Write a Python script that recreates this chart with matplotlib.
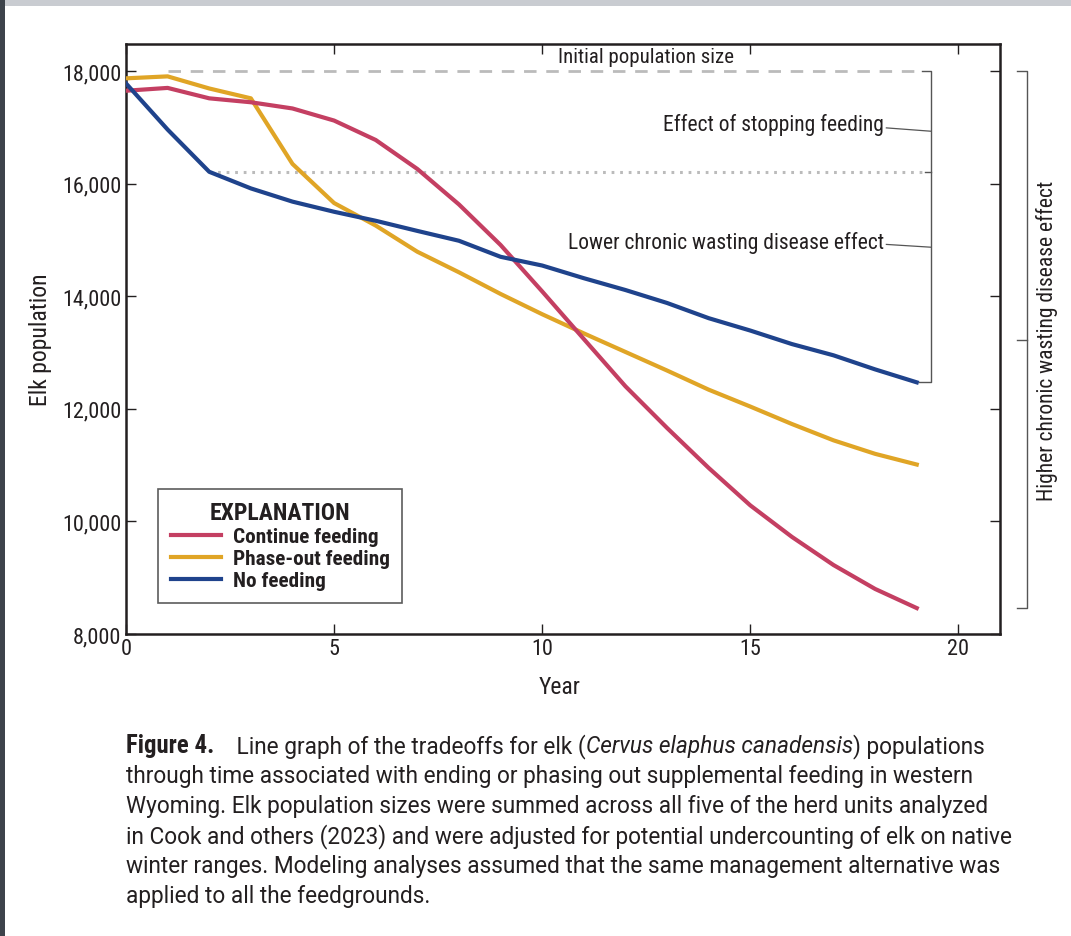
import matplotlib
matplotlib.use("Agg")
import matplotlib.pyplot as plt
from matplotlib.patches import Rectangle
from matplotlib.ticker import FuncFormatter, FixedLocator

# ---------------- data ----------------
years = list(range(20))
continue_feeding = [17650, 17700, 17515, 17445, 17335, 17120, 16775, 16260, 15630, 14910,
                    14085, 13240, 12400, 11660, 10950, 10285, 9725, 9225, 8800, 8460]
phase_out_feeding = [17870, 17905, 17690, 17515, 16350, 15655, 15255, 14790, 14425, 14040,
                     13680, 13340, 13010, 12680, 12340, 12040, 11730, 11440, 11200, 11010]
no_feeding = [17780, 16960, 16210, 15915, 15680, 15500, 15340, 15160, 14985, 14700,
              14545, 14320, 14110, 13880, 13610, 13390, 13150, 12950, 12700, 12470]
series_names = ["Continue feeding", "Phase-out feeding", "No feeding"]
initial_population = 18000
x_ticks = [0, 5, 10, 15, 20]
y_ticks = [8000, 10000, 12000, 14000, 16000, 18000]

caption_lines = [
    [("Figure 4.", "bold"), ("    Line graph of the tradeoffs for elk (", "normal"),
     ("Cervus elaphus canadensis", "italic"), (") populations", "normal")],
    [("through time associated with ending or phasing out supplemental feeding in western", "normal")],
    [("Wyoming. Elk population sizes were summed across all five of the herd units analyzed", "normal")],
    [("in Cook and others (2023) and were adjusted for potential undercounting of elk on native", "normal")],
    [("winter ranges. Modeling analyses assumed that the same management alternative was", "normal")],
    [("applied to all the feedgrounds.", "normal")],
]

# ---------------- style ----------------
FONT = ["Liberation Sans Narrow", "Roboto Condensed", "DejaVu Sans"]
CAP_FONT = ["Roboto", "DejaVu Sans"]
plt.rcParams["font.family"] = FONT
C_RED = "#C43F62"
C_YEL = "#E0A526"
C_BLU = "#1F438C"
C_GRID = "#BBBBBB"
C_BRK = "#555555"
TXT = "#231F20"

W, H = 1071, 937
fig = plt.figure(figsize=(W / 100, H / 100), dpi=100)
fig.patch.set_facecolor("white")

# frame bands of the screenshot
fig.patches.append(Rectangle((0, 1 - 7 / H), 1, 7 / H, transform=fig.transFigure,
                             facecolor="#C9CCD1", edgecolor="none", zorder=0))
fig.patches.append(Rectangle((0, 0), 5 / W, 1, transform=fig.transFigure,
                             facecolor="#3D434B", edgecolor="none", zorder=0))

ax = fig.add_axes([126 / W, 1 - 635 / H, (1000 - 126) / W, (635 - 45) / H])
ax.set_xlim(0, 21)
ax.set_ylim(8000, 18480)

lw = 3.0
ax.plot(years, continue_feeding, color=C_RED, lw=lw, label=series_names[0], zorder=4,
        solid_joinstyle="round")
ax.plot(years, phase_out_feeding, color=C_YEL, lw=lw, label=series_names[1], zorder=3,
        solid_joinstyle="round")
ax.plot(years, no_feeding, color=C_BLU, lw=lw, label=series_names[2], zorder=5,
        solid_joinstyle="round")

# reference lines
bx = 19.35
ax.plot([1, 19.1], [initial_population] * 2, color=C_GRID, lw=2.0,
        linestyle=(0, (4.5, 3.5)), zorder=2)
ax.plot([2, 19.2], [no_feeding[2]] * 2, color=C_GRID, lw=2.2,
        linestyle=(0, (0.9, 1.9)), zorder=2)
# inner bracket
ax.plot([19.12, bx, bx, 19.05], [initial_population, initial_population, no_feeding[-1], no_feeding[-1]],
        color=C_BRK, lw=1.0, zorder=2)
ax.plot([19.2, bx], [no_feeding[2]] * 2, color=C_BRK, lw=1.0, zorder=2)

# annotations
fs = 15.5
ax.text(12.5, 18262, "Initial population size", ha="center", va="center", fontsize=15, color=TXT)
ax.text(18.22, 17060, "Effect of stopping feeding", ha="right", va="center", fontsize=fs, color=TXT)
ax.plot([18.27, bx], [16990, 16930], color=C_BRK, lw=0.9)
ax.text(18.22, 14960, "Lower chronic wasting disease effect", ha="right", va="center", fontsize=fs, color=TXT)
ax.plot([18.27, bx], [14920, 14870], color=C_BRK, lw=0.9)

# outer bracket (outside axes)
ox = 21.66
mid = (initial_population + continue_feeding[-1]) / 2
ax.plot([21.42, ox, ox, 21.42], [initial_population, initial_population, continue_feeding[-1], continue_feeding[-1]],
        color=C_BRK, lw=1.0, clip_on=False)
ax.plot([21.42, ox], [mid, mid], color=C_BRK, lw=1.0, clip_on=False)
ax.text(22.12, mid, "Higher chronic wasting disease effect", rotation=90, ha="center", va="center",
        fontsize=fs, color=TXT, clip_on=False)

# axes styling
for s in ax.spines.values():
    s.set_linewidth(1.8)
    s.set_color("#231F20")
ax.xaxis.set_major_locator(FixedLocator(x_ticks))
ax.yaxis.set_major_locator(FixedLocator(y_ticks))
ax.yaxis.set_major_formatter(FuncFormatter(lambda v, p: f"{int(v):,}"))
ax.tick_params(direction="in", length=7.5, width=1.0, color="#231F20", top=True, right=True,
               labelsize=16, labelcolor=TXT, pad=3)
ax.tick_params(axis="y", pad=3.5)

fig.text(40 / W, 1 - 340 / H, "Elk population", rotation=90, ha="center", va="center",
         fontsize=17, color=TXT)
fig.text(560 / W, 1 - 688 / H, "Year", ha="center", va="center", fontsize=17, color=TXT)

# legend
leg = ax.legend(loc="lower left", bbox_to_anchor=(0.0366, 0.0525), borderaxespad=0,
                title="EXPLANATION", frameon=True, fancybox=False, handlelength=2.35,
                handletextpad=0.56, labelspacing=0.14, borderpad=0.6,
                prop={"weight": "bold", "size": 15.3},
                title_fontproperties={"weight": "bold", "size": 17})
leg.get_frame().set_edgecolor("#333333")
leg.get_frame().set_linewidth(1.2)
for t in leg.get_texts():
    t.set_color(TXT)
leg.get_title().set_color(TXT)

# caption
renderer = fig.canvas.get_renderer()
cap_fs = 16.3
y0 = 753
for i, parts in enumerate(caption_lines):
    xpix = 126
    ypix = y0 + 30 * i
    for txt, style in parts:
        kw = {}
        fam = CAP_FONT
        if style == "bold":
            kw["weight"] = "bold"
            fam = FONT
        elif style == "italic":
            kw["style"] = "italic"
        t = fig.text(xpix / W, 1 - ypix / H, txt, ha="left", va="baseline",
                     fontsize=cap_fs if style != "bold" else cap_fs + 1.5,
                     family=fam, color=TXT, **kw)
        bb = t.get_window_extent(renderer=renderer)
        xpix = bb.x1

fig.savefig("out.png", dpi=100, facecolor="white")
